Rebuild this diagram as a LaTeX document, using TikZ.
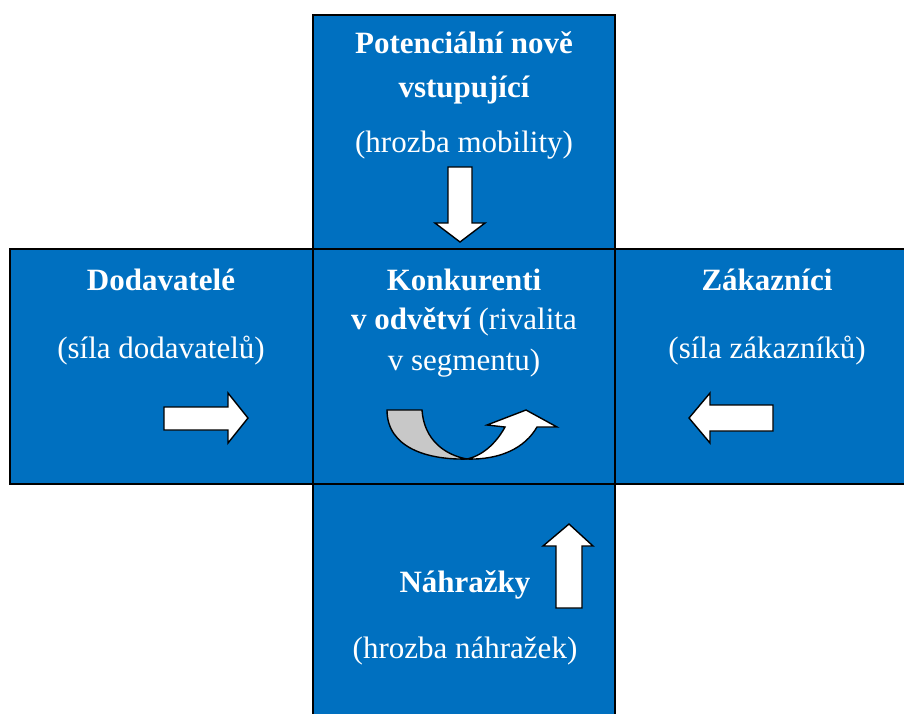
\documentclass[tikz,border=0pt]{standalone}
\usepackage{fontspec}
\setmainfont{Liberation Serif}
\definecolor{boxblue}{HTML}{0070C0}
\definecolor{arrgrey}{HTML}{C8C8C8}
\tikzset{
  panel/.style={draw=black, line width=1.6pt, fill=boxblue},
  txt/.style={text=white, anchor=base, inner sep=0pt, font=\fontsize{31}{36}\selectfont},
  btxt/.style={txt, font=\fontsize{31}{36}\selectfont\bfseries},
  blockarrow/.style={draw=black, line width=1.4pt, fill=white, line join=miter},
}
\begin{document}
\begin{tikzpicture}[x=1pt, y=-1pt]
\useasboundingbox (0,0) rectangle (904,713);
\begin{scope}
\clip (0,0) rectangle (904,713);
% panels
\path[panel] (313,15) rectangle (615,249);
\path[panel] (10,249) rectangle (313,484);
\path[panel] (615,249) rectangle (917,484);
\path[panel] (313,484) rectangle (615,730);
\path[panel] (313,249) rectangle (615,484);
\end{scope}
% top texts
\node[btxt] (t1) at (464,53) {Potenciální nově};
\node[btxt] (t2) at (464,97) {vstupující};
\node[txt] (t3) at (464,152) {(hrozba mobility)};
% left texts
\node[btxt] (l1) at (161,290) {Dodavatelé};
\node[txt] (l2) at (161,358) {(síla dodavatelů)};
% right texts
\node[btxt] (r1) at (767,290) {Zákazníci};
\node[txt] (r2) at (767,358) {(síla zákazníků)};
% centre texts
\node[btxt] (c1) at (464,290) {Konkurenti};
\node[txt] (c2) at (464,329) {\bfseries v odvětví\mdseries{} (rivalita};
\node[txt] (c3) at (464,370) {v segmentu)};
% bottom texts
\node[btxt] (b1) at (465,592) {Náhražky};
\node[txt] (b2) at (465,658) {(hrozba náhražek)};
% block arrows
\draw[blockarrow] (164,407) -- (228,407) -- (228,393) -- (248,418) -- (228,443) -- (228,430) -- (164,430) -- cycle;
\draw[blockarrow] (773,405) -- (710,405) -- (710,393) -- (689,418) -- (710,443) -- (710,431) -- (773,431) -- cycle;
\draw[blockarrow] (448,167) -- (472,167) -- (472,223) -- (485,223) -- (460,242) -- (435,223) -- (448,223) -- cycle;
\draw[blockarrow] (556,608) -- (582,608) -- (582,546) -- (593,546) -- (569,524) -- (543,546) -- (556,546) -- cycle;
% U-turn arrow
\draw[blockarrow, fill=arrgrey] (387,410) -- (422,410) .. controls (424,440) and (445,455) .. (467,459)
  .. controls (428,460) and (387,448) .. (387,410) -- cycle;
\draw[blockarrow] (467,459) .. controls (485,455) and (498,440) .. (505,427) -- (487,425) -- (526,410)
  -- (557,427) -- (537,427) .. controls (525,448) and (500,460) .. (467,459) -- cycle;
\end{tikzpicture}
\end{document}
